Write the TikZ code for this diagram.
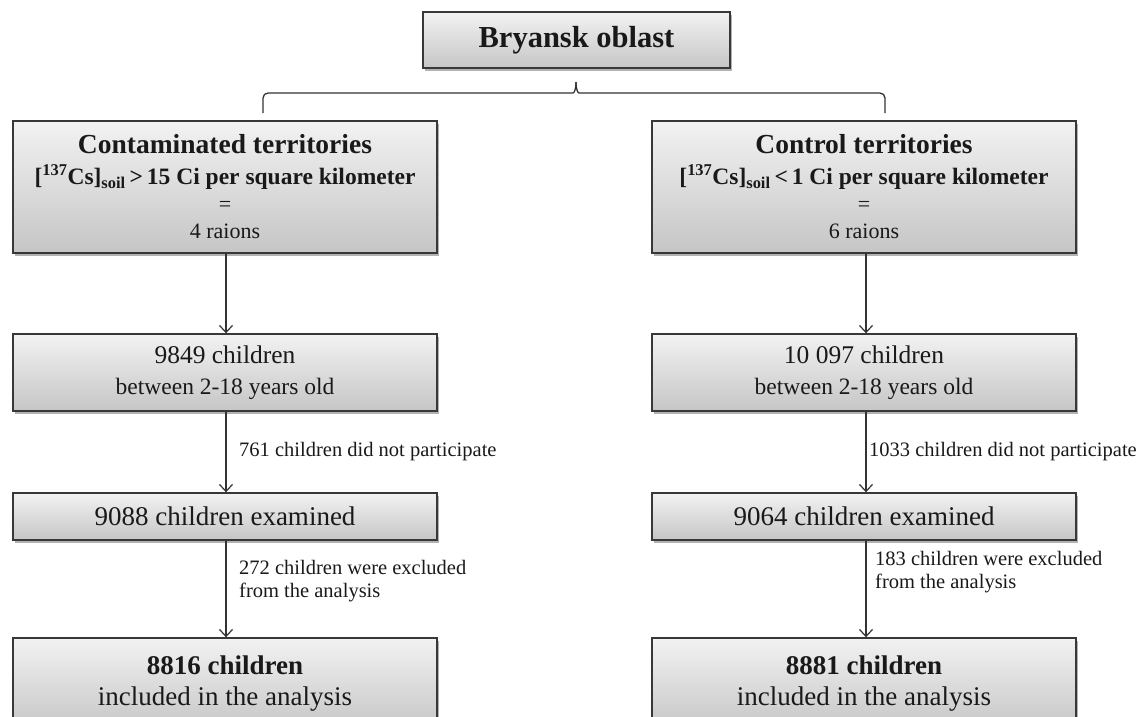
\documentclass[tikz,border=0pt]{standalone}
\usepackage{fontspec}
\setmainfont{Liberation Serif}
\usetikzlibrary{arrows.meta,shadows}
\begin{document}
\begin{tikzpicture}[x=1pt,y=-1pt,
  box/.style={draw=black!78, line width=1.4pt, top color=gray!10, bottom color=gray!45,
    drop shadow={shadow xshift=2pt,shadow yshift=-2.5pt,opacity=0.3,fill=black},
    align=center, inner sep=0pt, text=black!90},
  lbox/.style={box, minimum width=424pt},
  arr/.style={-{Straight Barb[length=7pt,width=13pt]}, draw=black!80, line width=1.2pt},
  lbl/.style={font=\fontsize{20.5}{23}\selectfont, inner sep=0pt, align=left, text=black!90, anchor=west}
]
\clip (0,0) rectangle (1145,716);
\fill[white] (0,0) rectangle (1145,716);

% top
\node[box, minimum width=307pt, minimum height=56pt, font=\fontsize{30.5}{32}\selectfont\bfseries] (top) at (576.5,40) {Bryansk oblast};

% brace
\coordinate (bl) at (263,113);
\coordinate (br) at (885,113);
\coordinate (bt) at (576,82);
\draw[black!80, line width=1.3pt, rounded corners=5pt]
  (bl) -- (263,93) -- (568,93) .. controls (574,93) and (576,90) .. (bt);
\draw[black!80, line width=1.3pt, rounded corners=5pt]
  (br) -- (885,93) -- (584,93) .. controls (578,93) and (576,90) .. (bt);

% left column
\node[lbox, minimum height=132pt, font=\fontsize{22}{27}\selectfont] (cont) at (225,187) {%
  {\fontsize{27.5}{30}\selectfont\bfseries Contaminated territories}\\[4pt]
  {\bfseries\fontsize{23.5}{27}\selectfont [\textsuperscript{137}Cs]\textsubscript{soil}\,>\,15 Ci per square kilometer}\\
  {\fontsize{22}{27}\selectfont =}\\
  4 raions};
\node[lbox, minimum height=77pt, font=\fontsize{23.5}{30}\selectfont] (l1) at (225,372.5) {%
  {\fontsize{25.5}{30}\selectfont 9849 children}\\[1pt]
  between 2-18 years old\rule[-3pt]{0pt}{3pt}};
\node[lbox, minimum height=47pt, font=\fontsize{27}{30}\selectfont] (l2) at (225,516.5) {9088 children examined};
\node[lbox, minimum height=92pt, font=\fontsize{27}{31}\selectfont] (l3) at (225,684) {%
  {\bfseries 8816 children}\\
  included in the analysis};

% right column
\node[lbox, minimum height=132pt, font=\fontsize{22}{27}\selectfont] (ctrl) at (864,187) {%
  {\fontsize{27.5}{30}\selectfont\bfseries Control territories}\\[4pt]
  {\bfseries\fontsize{23.5}{27}\selectfont [\textsuperscript{137}Cs]\textsubscript{soil}\,<\,1 Ci per square kilometer}\\
  {\fontsize{22}{27}\selectfont =}\\
  6 raions};
\node[lbox, minimum height=77pt, font=\fontsize{23.5}{30}\selectfont] (r1) at (864,372.5) {%
  {\fontsize{25.5}{30}\selectfont 10 097 children}\\[1pt]
  between 2-18 years old\rule[-3pt]{0pt}{3pt}};
\node[lbox, minimum height=47pt, font=\fontsize{27}{30}\selectfont] (r2) at (864,516.5) {9064 children examined};
\node[lbox, minimum height=92pt, font=\fontsize{27}{31}\selectfont] (r3) at (864,684) {%
  {\bfseries 8881 children}\\
  included in the analysis};

% arrows
\draw[arr] (cont.south -| 226,0) -- (l1.north -| 226,0);
\draw[arr] (l1.south -| 226,0) -- (l2.north -| 226,0);
\draw[arr] (l2.south -| 226,0) -- (l3.north -| 226,0);
\draw[arr] (ctrl.south -| 866,0) -- (r1.north -| 866,0);
\draw[arr] (r1.south -| 866,0) -- (r2.north -| 866,0);
\draw[arr] (r2.south -| 866,0) -- (r3.north -| 866,0);

% labels
\node[lbl] (t1) at (239,452) {761 children did not participate};
\node[lbl, anchor=north west] (t2) at (239,560) {272 children were excluded\\from the analysis};
\node[lbl] (t3) at (869,452) {1033 children did not participate};
\node[lbl, anchor=north west] (t4) at (875,551) {183 children were excluded\\from the analysis};
\end{tikzpicture}
\end{document}
